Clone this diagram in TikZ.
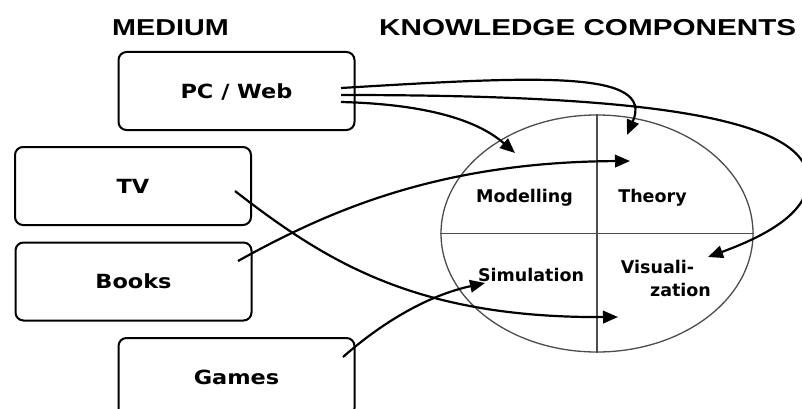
\documentclass[tikz,border=0pt]{standalone}
\usepackage{fontspec}
\usetikzlibrary{arrows.meta,shapes.geometric}
\newfontfamily\boxfont{DejaVu Sans}
\newfontfamily\titlefont{Liberation Sans}
\newcommand\hstretch[2]{\scalebox{#1}[1]{#2}}
\tikzset{
  medbox/.style={draw, line width=2pt, rounded corners=8pt, minimum width=236pt, minimum height=78pt,
    inner sep=0pt, text height=14.2pt, text depth=0pt, font=\fontsize{19.5}{20}\boxfont\bfseries},
  title/.style={anchor=base west, inner sep=0pt, font=\fontsize{23}{24}\titlefont\bfseries},
  quad/.style={anchor=base, inner sep=0pt, font=\fontsize{17.5}{18}\boxfont\bfseries},
  conn/.style={line width=2.2pt, -{Triangle[length=15pt,width=12.5pt]}},
  kcline/.style={draw=black!70, line width=1.3pt}
}
\begin{document}
\begin{tikzpicture}[x=1pt,y=-1pt]
\useasboundingbox (0,0) rectangle (802,409);
% titles
\node[title] (tmed) at (112,36) {\hstretch{1.25}{MEDIUM}};
\node[title] (tkc) at (379,36) {\hstretch{1.29}{KNOWLEDGE COMPONENTS}};
% medium boxes
\node[medbox] (pc) at (236.5,91) {\hstretch{1.15}{PC / Web}};
\node[medbox] (tv) at (133,186) {\hstretch{1.15}{TV}};
\node[medbox] (books) at (133.5,281.5) {\hstretch{1.15}{Books}};
\node[medbox] (games) at (236.5,377) {\hstretch{1.15}{Games}};
% knowledge components ellipse
\node[ellipse, kcline, minimum width=312pt, minimum height=237pt, inner sep=0pt] (kc) at (597,233.5) {};
\draw[kcline] (kc.north) -- (kc.south);
\draw[kcline] (kc.west) -- (kc.east);
\node[quad] (model) at (524.5,202.7) {Modelling};
\node[quad] (theory) at (652.5,202.7) {Theory};
\node[quad] (simul) at (531,281) {Simulation};
\node[quad] (visA) at (657.5,273.3) {Visuali-};
\node[quad] (visB) at (680.5,296.7) {zation};
% connector endpoints
\coordinate (pcA) at (341,88);
\coordinate (pcB) at (341,95);
\coordinate (pcC) at (341,102);
\coordinate (tvS) at (235,191);
\coordinate (bkS) at (238,261);
\coordinate (gmS) at (343,357);
\coordinate (thTop) at (627,135);
\coordinate (thMid) at (630,161);
\coordinate (mdTip) at (515,153);
\coordinate (vsTip) at (708,257);
\coordinate (vzTip) at (618,317);
\coordinate (smTip) at (485,283);
% connectors
\draw[conn] (pcA) .. controls (540,76) and (655,70) .. (thTop);
\draw[conn] (pcB) .. controls (600,95) and (808,110) .. (808,180) .. controls (808,215) and (760,238) .. (vsTip);
\draw[conn] (pcC) .. controls (420,104) and (475,118) .. (mdTip);
\draw[conn] (tvS) .. controls (330,265) and (420,318) .. (vzTip);
\draw[conn] (bkS) .. controls (330,210) and (440,162) .. (thMid);
\draw[conn] (gmS) .. controls (385,320) and (430,295) .. (smTip);
\end{tikzpicture}
\end{document}
